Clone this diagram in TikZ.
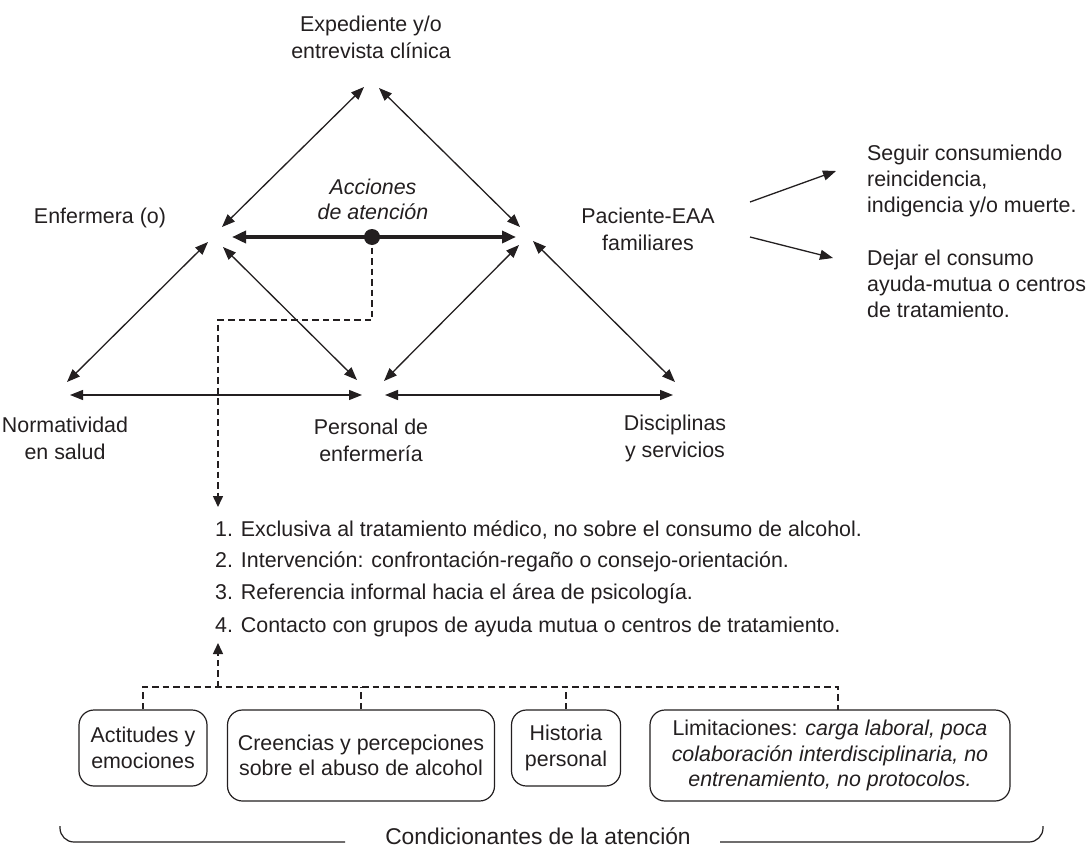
\documentclass[tikz,border=0pt]{standalone}
\usepackage{fontspec}
\setmainfont{Liberation Sans}
\usetikzlibrary{arrows.meta}
\definecolor{ink}{HTML}{231F20}
\begin{document}
\begin{tikzpicture}[x=1pt,y=-1pt,
  every node/.style={text=ink, inner sep=0pt},
  txt/.style={font=\fontsize{21.4}{27}\selectfont, align=center},
  ltxt/.style={font=\fontsize{21.4}{26}\selectfont, align=left, anchor=west},
  boxn/.style={draw=ink, line width=1.2pt, rounded corners=15pt, font=\fontsize{21.4}{25.5}\selectfont, align=center},
  thin/.style={draw=ink, line width=1.3pt},
  both/.style={thin, {Triangle[length=13pt,width=10pt]}-{Triangle[length=13pt,width=10pt]}},
  one/.style={thin, -{Triangle[length=13pt,width=10pt]}},
  thick/.style={draw=ink, line width=3.6pt, {Triangle[length=14pt,width=12pt]}-{Triangle[length=14pt,width=12pt]}},
  dsh/.style={draw=ink, line width=1.5pt, dash pattern=on 6.5pt off 4pt},
  dsharr/.style={dsh, -{Triangle[length=11pt,width=10pt]}},
]
\useasboundingbox (0,0) rectangle (1091,856);
\fill[white] (0,0) rectangle (1091,856);

% text nodes
\node[txt] (exp) at (371,37) {Expediente y/o\\entrevista clínica};
\node[txt, font=\fontsize{21.4}{25}\selectfont\itshape] (acc) at (373,199) {Acciones\\de atención};
\node[txt] (enf) at (100,218) {Enfermera (o)};
\node[txt] (pac) at (648,229) {Paciente-EAA\\familiares};
\node[txt] (nor) at (65,438) {Normatividad\\en salud};
\node[txt] (per) at (371,440) {Personal de\\enfermería};
\node[txt] (dis) at (675,438) {Disciplinas\\y servicios};
\node[ltxt] (seg) at (867,181) {Seguir consumiendo\\reincidencia,\\indigencia y/o muerte.};
\node[ltxt] (dej) at (867,284) {Dejar el consumo\\ayuda-mutua o centros\\de tratamiento.};

\node[ltxt] (l1) at (215,530) {1. Exclusiva al tratamiento médico, no sobre el consumo de alcohol.};
\node[ltxt] (l2) at (215,562) {2. Intervención: confrontación-regaño o consejo-orientación.};
\node[ltxt] (l3) at (215,594) {3. Referencia informal hacia el área de psicología.};
\node[ltxt] (l4) at (215,627) {4. Contacto con grupos de ayuda mutua o centros de tratamiento.};

% boxes
\node[boxn, minimum width=128pt, minimum height=76pt] (b1) at (143,748) {Actitudes y\\emociones};
\node[boxn, minimum width=267pt, minimum height=91pt] (b2) at (361,755.5) {Creencias y percepciones\\sobre el abuso de alcohol};
\node[boxn, minimum width=109pt, minimum height=76pt] (b3) at (566,748) {Historia\\personal};
\node[boxn, minimum width=360pt, minimum height=91pt] (b4) at (830,755.5) {Limitaciones: \textit{carga laboral, poca}\\\textit{colaboración interdisciplinaria, no}\\\textit{entrenamiento, no protocolos.}};

\node[font=\fontsize{22.8}{28}\selectfont] (cond) at (538,836) {Condicionantes de la atención};

% coordinates for arrow ends
\coordinate (eL) at (364,87);
\coordinate (eR) at (379,88);
\coordinate (nA) at (222,227);
\coordinate (nB) at (232,237);
\coordinate (nC) at (208,242);
\coordinate (nD) at (223,247);
\coordinate (pA) at (520,227);
\coordinate (pB) at (516,237);
\coordinate (pC) at (519,245);
\coordinate (pD) at (533,241);
\coordinate (qA) at (67,382);
\coordinate (qB) at (70,395);
\coordinate (rA) at (357,380);
\coordinate (rB) at (362,395);
\coordinate (rC) at (384,381);
\coordinate (rD) at (385,395);
\coordinate (sA) at (675,382);
\coordinate (sB) at (673,395);
\coordinate (dot) at (372,237);
\coordinate (lt) at (218,507);
\coordinate (lb) at (218,643);
\coordinate (bus) at (218,687);
\coordinate (bus1) at (143,687);
\coordinate (bus4) at (838,687);
\coordinate (b4t) at (838,710);
\coordinate (o1s) at (750,202);
\coordinate (o1e) at (836,171);
\coordinate (o2s) at (750,237);
\coordinate (o2e) at (833,258);

% triangle connectors
\draw[both] (eL) -- (nA);
\draw[both] (eR) -- (pA);
\draw[thick] (nB) -- (pB);
\draw[both] (nC) -- (qA);
\draw[both] (nD) -- (rA);
\draw[both] (pC) -- (rC);
\draw[both] (pD) -- (sA);
\draw[both] (qB) -- (rB);
\draw[both] (rD) -- (sB);
\fill[ink] (dot) circle (8pt);

% outcome arrows
\draw[one] (o1s) -- (o1e);
\draw[one] (o2s) -- (o2e);

% dashed connectors
\draw[dsharr] (dot) -- (372,320) -| (lt);
\draw[dsh] (b1.north) -- (bus1) -- (bus4) -- (b4t);
\draw[dsh] (b2.north) -- (b2.north |- bus);
\draw[dsh] (b3.north) -- (b3.north |- bus);
\draw[dsharr] (bus) -- (lb);

% brace-like bracket
\draw[ink, line width=1.2pt, rounded corners=14pt] (60,826) |- (345,842);
\draw[ink, line width=1.2pt, rounded corners=14pt] (720,842) -| (1043,826);
\end{tikzpicture}
\end{document}
